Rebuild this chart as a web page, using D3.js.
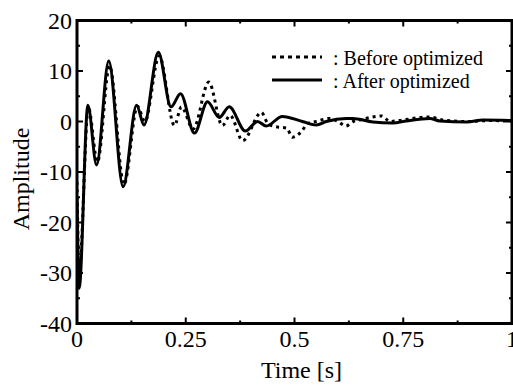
<!DOCTYPE html>
<html><head><meta charset="utf-8">
<script src="https://cdn.jsdelivr.net/npm/d3@7"></script>
<style>html,body{margin:0;padding:0;background:#fff;}svg{display:block;}</style>
</head><body>
<svg id="c" width="513" height="387"></svg>
<script>
// Data
const afterT = [0, 0.005, 0.025, 0.045, 0.073, 0.106, 0.137, 0.154, 0.187, 0.216, 0.238, 0.27, 0.30, 0.327, 0.35, 0.387, 0.415, 0.435, 0.472, 0.518, 0.55, 0.573, 0.619, 0.634, 0.68, 0.726, 0.757, 0.811, 0.834, 0.896, 0.933, 1.0];
const afterY = [-15, -33, 3.2, -8.6, 12.0, -12.9, 3.2, -0.7, 13.7, 2.9, 5.5, -2.3, 3.9, 0.8, 2.9, -1.9, 0, -0.9, 1.0, 0, -0.7, 0, 0.6, 0.6, -0.1, -0.3, 0.1, 0.6, 0.1, -0.1, 0.3, 0.2];
const beforeT = [0, 0.005, 0.026, 0.047, 0.075, 0.108, 0.139, 0.156, 0.189, 0.224, 0.24, 0.267, 0.303, 0.334, 0.352, 0.381, 0.424, 0.438, 0.455, 0.482, 0.495, 0.516, 0.53, 0.55, 0.58, 0.6, 0.618, 0.635, 0.65, 0.7, 0.72, 0.74, 0.81, 0.84, 0.9, 0.95, 1.0];
const beforeY = [-12, -30, 2.8, -8, 11, -12.5, 3, 0, 13, -0.8, 2.9, -1.5, 7.8, -0.8, 1.2, -3.8, 1.8, -0.3, -1, -1.3, -3.1, -2, -0.4, 0, 0.6, 0, -0.9, 0, 0.3, 1.1, 0, 0.2, 0.9, 0.3, 0, 0.2, 0];
const xTicks = [0, 0.25, 0.5, 0.75, 1];
const xTickLabels = ["0", "0.25", "0.5", "0.75", "1"];
const yTicks = [-40, -30, -20, -10, 0, 10, 20];
const seriesNames = [": Before optimized", ": After optimized"];

const svg = d3.select("#c");
const font = "'Liberation Serif', 'Times New Roman', serif";
const L = 77, R = 512, T = 20.5, B = 323.5;
const x = d3.scaleLinear().domain([0, 1]).range([L, R]);
const y = d3.scaleLinear().domain([-40, 20]).range([B, T]);

const g = svg.append("g");
// clip
svg.append("defs").append("clipPath").attr("id", "clip")
  .append("rect").attr("x", L).attr("y", T).attr("width", R - L).attr("height", B - T);

const line = d3.line().x(d => x(d[0])).y(d => y(d[1])).curve(d3.curveMonotoneX);
const beforeData = beforeT.map((t, i) => [t, beforeY[i]]);
const afterData = afterT.map((t, i) => [t, afterY[i]]);

const plot = g.append("g").attr("clip-path", "url(#clip)");
plot.append("path").datum(beforeData).attr("d", line)
  .attr("fill", "none").attr("stroke", "#000").attr("stroke-width", 3)
  .attr("stroke-dasharray", "3,4");
plot.append("path").datum(afterData).attr("d", line)
  .attr("fill", "none").attr("stroke", "#000").attr("stroke-width", 3);

// ticks (inward) on all sides
const xMinor = d3.range(0, 1.0001, 0.125);
const yMinor = d3.range(-40, 20.001, 5);
function tickLen(isMajor) { return isMajor ? 6 : 3; }
xMinor.forEach(v => {
  const maj = Math.abs(v * 4 - Math.round(v * 4)) < 1e-6;
  const len = tickLen(maj);
  g.append("line").attr("x1", x(v)).attr("x2", x(v)).attr("y1", B).attr("y2", B - len).attr("stroke", "#000").attr("stroke-width", 2);
  g.append("line").attr("x1", x(v)).attr("x2", x(v)).attr("y1", T).attr("y2", T + len).attr("stroke", "#000").attr("stroke-width", 2);
});
yMinor.forEach(v => {
  const maj = v % 10 === 0;
  const len = tickLen(maj);
  g.append("line").attr("x1", L).attr("x2", L + len).attr("y1", y(v)).attr("y2", y(v)).attr("stroke", "#000").attr("stroke-width", 2);
  g.append("line").attr("x1", R).attr("x2", R - len).attr("y1", y(v)).attr("y2", y(v)).attr("stroke", "#000").attr("stroke-width", 2);
});

// frame
g.append("rect").attr("x", L).attr("y", T).attr("width", R - L).attr("height", B - T)
  .attr("fill", "none").attr("stroke", "#000").attr("stroke-width", 3);

// tick labels
xTicks.forEach((v, i) => {
  g.append("text").attr("x", x(v)).attr("y", 347).attr("text-anchor", "middle")
    .attr("font-family", font).attr("font-size", 24).attr("fill", "#000").text(xTickLabels[i]);
});
yTicks.forEach(v => {
  g.append("text").attr("x", 72).attr("y", y(v) + 8).attr("text-anchor", "end")
    .attr("font-family", font).attr("font-size", 24).attr("fill", "#000").text(String(v));
});

// axis titles
g.append("text").attr("x", (L + R) / 2 + 7).attr("y", 378).attr("text-anchor", "middle")
  .attr("font-family", font).attr("font-size", 24).attr("fill", "#000").text("Time [s]");
g.append("text").attr("transform", "translate(29,179) rotate(-90)").attr("text-anchor", "middle")
  .attr("font-family", font).attr("font-size", 24).attr("fill", "#000").text("Amplitude");

// legend
const leg = g.append("g");
const legY = [57, 80];
leg.append("line").attr("x1", 272).attr("x2", 322).attr("y1", legY[0]).attr("y2", legY[0])
  .attr("stroke", "#000").attr("stroke-width", 3).attr("stroke-dasharray", "4,4");
leg.append("line").attr("x1", 272).attr("x2", 322).attr("y1", legY[1]).attr("y2", legY[1])
  .attr("stroke", "#000").attr("stroke-width", 3);
seriesNames.forEach((s, i) => {
  leg.append("text").attr("x", 333).attr("y", legY[i] + 8).attr("font-family", font)
    .attr("font-size", 20).attr("fill", "#000").text(s);
});
</script>
</body></html>
